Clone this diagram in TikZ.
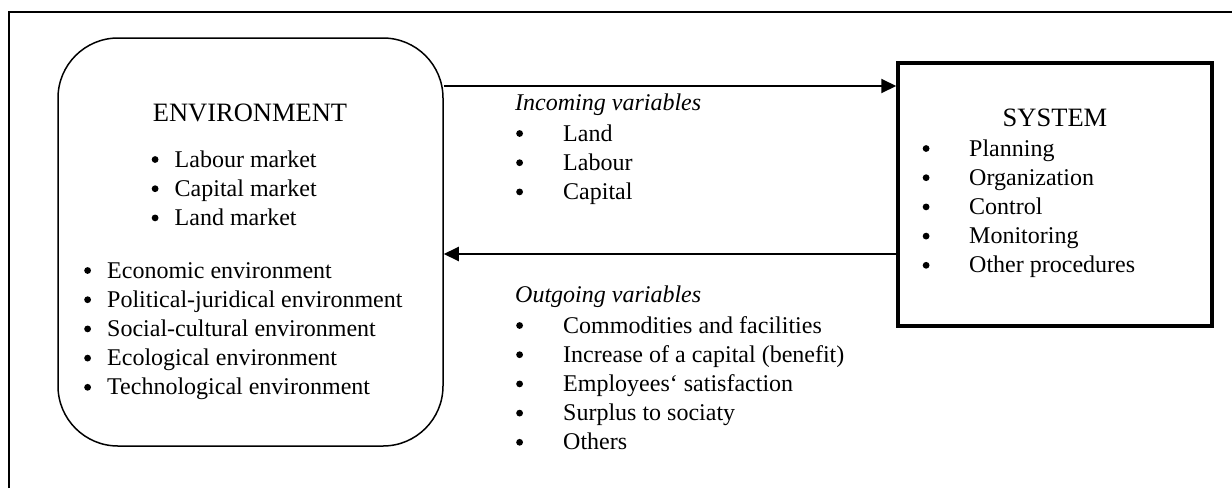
\documentclass[tikz,border=0pt]{standalone}
\usepackage{fontspec}
\setmainfont{Liberation Serif}
\usetikzlibrary{arrows.meta}
\tikzset{
  frameline/.style={line width=2pt},
  envbox/.style={draw, line width=1.5pt, rounded corners=60pt, inner sep=0pt,
    minimum width=385pt, minimum height=408pt},
  sysbox/.style={draw, line width=3.5pt, inner sep=0pt,
    minimum width=314pt, minimum height=263pt},
  heading/.style={inner sep=0pt, anchor=base, font=\fontsize{26.5}{30}\selectfont},
  txt/.style={inner sep=0pt, anchor=base west, font=\fontsize{24}{29.2}\selectfont},
  flow/.style={line width=2pt, -{Triangle[length=15pt,width=14pt]}},
}
\newcommand{\bu}{\tikz[x=1pt,y=1pt,baseline=-7.5pt]\fill (3.6,0) circle (3.4pt);}
\newcommand{\bl}[2]{\begin{tabular}[t]{@{}p{#1}@{}l@{}}#2\end{tabular}}
\begin{document}
\begin{tikzpicture}[x=1pt,y=-1pt]
\useasboundingbox (0,0) rectangle (1232,488);
% outer frame (top and left edges visible)
\draw[frameline] (9,488) -- (9,12) -- (1232,12);
% main boxes
\node[envbox] (env) at (250.5,242) {};
\node[sysbox] (sys) at (1055,194.5) {};
% environment texts
\node[heading] (envh) at (250,121) {ENVIRONMENT};
\node[txt] (envA) at (151.5,167) {\bl{23pt}{\bu & Labour market\\ \bu & Capital market\\ \bu & Land market}};
\node[txt] (envB) at (84,278) {\bl{23pt}{\bu & Economic environment\\ \bu & Political-juridical environment\\ \bu & Social-cultural environment\\ \bu & Ecological environment\\ \bu & Technological environment}};
% system texts
\node[heading] (sysh) at (1055,126) {SYSTEM};
\node[txt] (sysA) at (922.5,156) {\bl{46.5pt}{\bu & Planning\\ \bu & Organization\\ \bu & Control\\ \bu & Monitoring\\ \bu & Other procedures}};
% connectors
\coordinate (inY) at (0,86);
\coordinate (outY) at (0,254);
\draw[flow] (env.east |- inY) -- (sys.west |- inY);
\draw[flow] (sys.west |- outY) -- (env.east |- outY);
% variable labels
\node[txt] (inh) at (515,110) {\itshape Incoming variables};
\node[txt] (inA) at (516,141) {\bl{47pt}{\bu & Land\\ \bu & Labour\\ \bu & Capital}};
\node[txt] (outh) at (515,302) {\itshape Outgoing variables};
\node[txt] (outA) at (516,333) {\bl{47pt}{\bu & Commodities and facilities\\ \bu & Increase of a capital (benefit)\\ \bu & Employees‘ satisfaction\\ \bu & Surplus to sociaty\\ \bu & Others}};
\end{tikzpicture}
\end{document}
